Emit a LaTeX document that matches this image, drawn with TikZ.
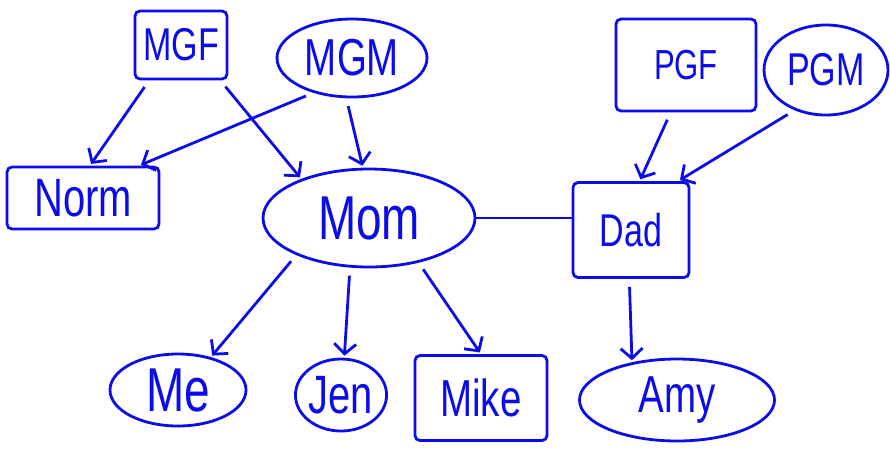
\documentclass[tikz,border=0pt]{standalone}
\usepackage{fontspec}
\setmainfont{Liberation Sans}
\usetikzlibrary{arrows.meta,shapes.geometric}
\definecolor{pen}{RGB}{12,12,232}
\newcommand{\cond}[1]{\scalebox{0.74}[1]{#1}}
\tikzset{
  box/.style={rectangle, rounded corners=5pt, draw=pen, line width=2.8pt, text=pen, inner sep=0pt},
  oval/.style={ellipse, draw=pen, line width=2.8pt, text=pen, inner sep=0pt},
  ar/.style={-{Straight Barb[length=10pt,width=22pt]}, draw=pen, line width=2.8pt,
             shorten <=8pt, shorten >=2pt},
  ln/.style={draw=pen, line width=2.8pt},
}

\begin{document}
\begin{tikzpicture}[x=1pt,y=-1pt]
\useasboundingbox (0,0) rectangle (890,451);
\foreach \n/\x/\y/\st/\w/\h/\fs/\t in {
 mgf/181/45/box/92/68/46/MGF,
 mgm/352/58/oval/150/78/52/MGM,
 norm/83/198/box/152/62/54/Norm,
 mom/369/218/oval/212/98/62/Mom,
 pgf/686/65/box/140/92/42/PGF,
 pgm/826/70/oval/124/90/46/PGM,
 dad/631/230/box/116/95/46/Dad,
 me/178/390/oval/136/72/62/Me,
 jen/341/395/oval/82/72/54/Jen,
 mike/481/398/box/132/85/52/Mike,
 amy/677/400/oval/195/82/52/Amy} {
  \node[\st, minimum width=\w pt, minimum height=\h pt,
        font=\fontsize{\fs}{\fs}\selectfont] (\n) at (\x,\y) {\cond{\t}};
}
% parents
\foreach \a/\b in {mgf.228/norm.78, mgf.318/mom.150, mgm.222/norm.30, mgm.262/mom.97,
                   pgf.252/dad.80, pgm.232/dad.46} {
  \draw[ar] (\a) -- (\b);
}
% children
\foreach \a/\b in {mom.207/me.45, mom.249/jen.85, mom.318/mike.north, dad.268/amy.140} {
  \draw[ar] (\a) -- (\b);
}
\draw[ln] (mom.east) -- (mom.east -| dad.west);
\end{tikzpicture}
\end{document}
